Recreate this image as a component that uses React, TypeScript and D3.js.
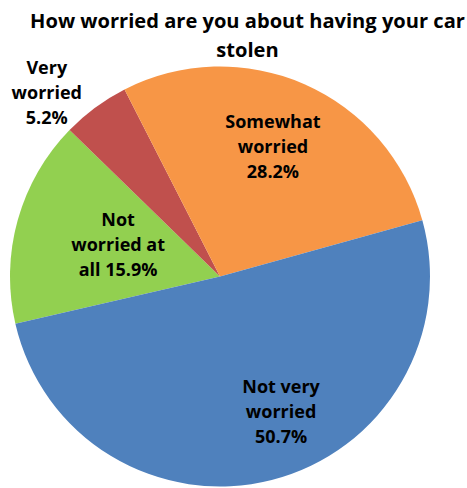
import React from "react";
import * as d3 from "d3";

const categories = ["Not worried at all", "Very worried", "Somewhat worried", "Not very worried"];
const values = [15.9, 5.2, 28.2, 50.7];
const labelLines = [
  ["Not", "worried at", "all 15.9%"],
  ["Very", "worried", "5.2%"],
  ["Somewhat", "worried", "28.2%"],
  ["Not very", "worried", "50.7%"],
];
const colors = ["#92D050", "#C0504D", "#F79646", "#4F81BD"];

const W = 467;
const H = 488;
const cx = 220;
const cy = 276.5;
const R = 210;
const startDeg = -103;
// label placement (distance from center, angle in degrees from 12 o'clock) of middle-line baseline
const labelPolar: [number, number][] = [
  [105, -76],
  [248, -44.3],
  [134.4, 23.2],
  [153.8, 156.6],
];

export default function App() {
  const pie = d3
    .pie<number>()
    .sort(null)
    .value((d) => d)
    .startAngle((startDeg * Math.PI) / 180)
    .endAngle(((startDeg + 360) * Math.PI) / 180);
  const arcs = pie(values);
  const arc = d3.arc<d3.PieArcDatum<number>>().innerRadius(0).outerRadius(R);
  const font = "'Open Sans', sans-serif";
  const lh = 25;
  return (
    <svg width={W} height={H} style={{ display: "block", position: "absolute", left: 0, top: 0 }}>
      <rect width={W} height={H} fill="#fff" />
      <text x={247.5} y={28} textAnchor="middle" fontFamily={font} fontWeight="bold" fontSize={20.1} fill="#000">
        How worried are you about having your car
      </text>
      <text x={247.5} y={57} textAnchor="middle" fontFamily={font} fontWeight="bold" fontSize={20.1} fill="#000">
        stolen
      </text>
      <g transform={`translate(${cx},${cy})`}>
        {arcs.map((a, i) => (
          <path key={categories[i]} d={arc(a) || ""} fill={colors[i]} />
        ))}
        {arcs.map((a, i) => {
          const [dist, ang] = labelPolar[i];
          const rad = (ang * Math.PI) / 180;
          const x = dist * Math.sin(rad);
          const y = -dist * Math.cos(rad);
          const lines = labelLines[i];
          return (
            <text key={"l" + i} textAnchor="middle" fontFamily={font} fontWeight="bold" fontSize={18} fill="#000">
              {lines.map((ln, j) => (
                <tspan key={j} x={x} y={y + (j - (lines.length - 1) / 2) * lh}>
                  {ln}
                </tspan>
              ))}
            </text>
          );
        })}
      </g>
    </svg>
  );
}
